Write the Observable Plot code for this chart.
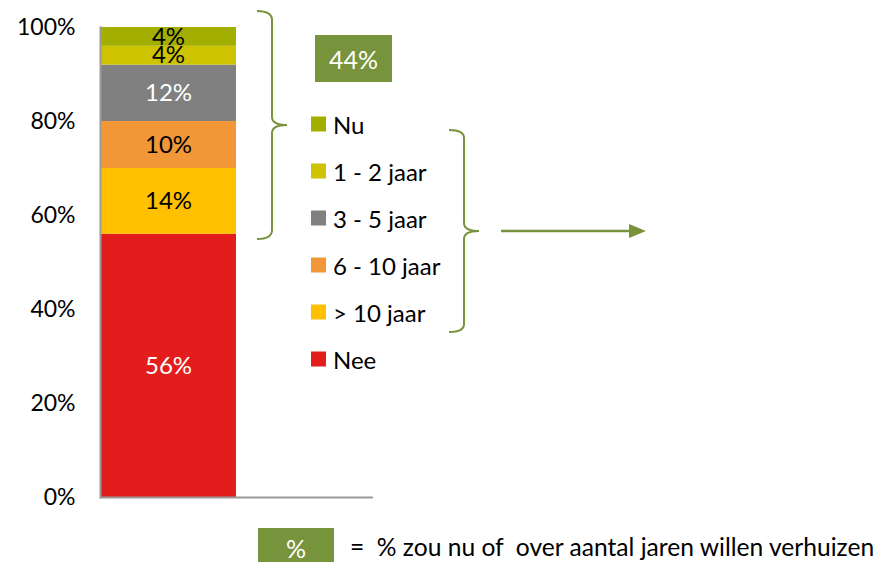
<!DOCTYPE html>
<html>
<head>
<meta charset="utf-8">
<script src="https://cdn.jsdelivr.net/npm/d3@7"></script>
<script src="https://cdn.jsdelivr.net/npm/@observablehq/plot@0.6"></script>
<style>
  html, body { margin: 0; padding: 0; background: #fff; }
  #wrap { position: relative; width: 884px; height: 562px; overflow: hidden; font-family: Lato, "Open Sans", sans-serif; }
  #wrap > svg { position: absolute; left: 0; top: 0; }
</style>
</head>
<body>
<div id="wrap"></div>
<script>
// ---- data ----
const categories = ["Nee", "> 10 jaar", "6 - 10 jaar", "3 - 5 jaar", "1 - 2 jaar", "Nu"];
const values = [56, 14, 10, 12, 4, 4];
const colors = ["#e31c1c", "#ffc000", "#f19737", "#808080", "#cdc300", "#a2ae00"];
const labelColors = ["white", "black", "black", "white", "black", "black"];
const yTicks = [0, 20, 40, 60, 80, 100];
const groupName = "Totaal";
const summaryLabel = "44%";
const keyLabel = "%";
const keyNote = "=  % zou nu of  over aantal jaren willen verhuizen";

const data = categories.map((c, i) => ({group: groupName, cat: c, value: values[i], labelColor: labelColors[i]}));
const green = "#77933c";

const chart = Plot.plot({
  width: 884,
  height: 520,
  marginLeft: 100,
  marginRight: 511,
  marginTop: 27,
  marginBottom: 23,
  style: {fontFamily: "Lato, 'Open Sans', sans-serif", fontSize: "23px", color: "#000", background: "transparent"},
  x: {type: "band", domain: [groupName], paddingInner: 0.332, paddingOuter: 0.332, align: 0, axis: null},
  y: {domain: [0, 100], axis: null},
  color: {domain: categories, range: colors},
  marks: [
    Plot.barY(data, {x: "group", y: "value", fill: "cat"}),
    Plot.text(data, Plot.stackY({x: "group", y: "value", text: d => d.labelColor === "white" ? d.value + "%" : "", fill: "white", fontSize: 24})),
    Plot.text(data, Plot.stackY({x: "group", y: "value", text: d => d.labelColor === "black" ? d.value + "%" : "", fill: "black", fontSize: 24})),
    Plot.axisY({ticks: yTicks, tickSize: 0, tickPadding: 25, tickFormat: d => d + "%", fontSize: 23, label: null, fill: "#000"}),
    Plot.frame({anchor: "left", stroke: "#9a9a9a", strokeWidth: 2}),
    Plot.ruleY([0], {stroke: "#9a9a9a", strokeWidth: 2})
  ]
});

const wrap = document.getElementById("wrap");
wrap.appendChild(chart);

// ---- overlay annotations ----
const svg = d3.select(wrap).append("svg")
  .attr("width", 884).attr("height", 562)
  .style("font-family", "Lato, 'Open Sans', sans-serif");

// brackets
svg.append("path")
  .attr("d", "M257,11 Q272,11 272,20 L272,117 Q272,125 287,125 Q272,125 272,133 L272,230 Q272,239 257,239")
  .attr("fill", "none").attr("stroke", green).attr("stroke-width", 2);
svg.append("path")
  .attr("d", "M449,130 Q464,130 464,138 L464,223 Q464,231 479,231 Q464,231 464,239 L464,324 Q464,332 449,332")
  .attr("fill", "none").attr("stroke", green).attr("stroke-width", 2);
// arrow
svg.append("line").attr("x1", 501).attr("y1", 231).attr("x2", 632).attr("y2", 231)
  .attr("stroke", green).attr("stroke-width", 2.5);
svg.append("polygon").attr("points", "629,224 646,231 629,238").attr("fill", green);

// summary box
svg.append("rect").attr("x", 315).attr("y", 35).attr("width", 77).attr("height", 47).attr("fill", green);
svg.append("text").attr("x", 353.5).attr("y", 59).attr("text-anchor", "middle").attr("dominant-baseline", "central")
  .attr("fill", "white").attr("font-size", 25).text(summaryLabel);

// legend (top-down = reversed stack order)
const legendItems = categories.map((c, i) => ({c, col: colors[i]})).reverse();
legendItems.forEach((d, k) => {
  const cy = 124 + 47 * k;
  svg.append("rect").attr("x", 311).attr("y", cy - 7.5).attr("width", 15).attr("height", 15).attr("fill", d.col);
  svg.append("text").attr("x", 333).attr("y", cy).attr("dominant-baseline", "central")
    .attr("font-size", 24).attr("fill", "#000").text(d.c);
});

// key at bottom
svg.append("rect").attr("x", 258).attr("y", 528).attr("width", 76).attr("height", 40).attr("fill", green);
svg.append("text").attr("x", 296).attr("y", 548).attr("text-anchor", "middle").attr("dominant-baseline", "central")
  .attr("fill", "white").attr("font-size", 25).text(keyLabel);
svg.append("text").attr("x", 350).attr("y", 556).attr("font-size", 24.6).attr("fill", "#000")
  .attr("xml:space", "preserve").style("white-space", "pre").text(keyNote);
</script>
</body>
</html>
